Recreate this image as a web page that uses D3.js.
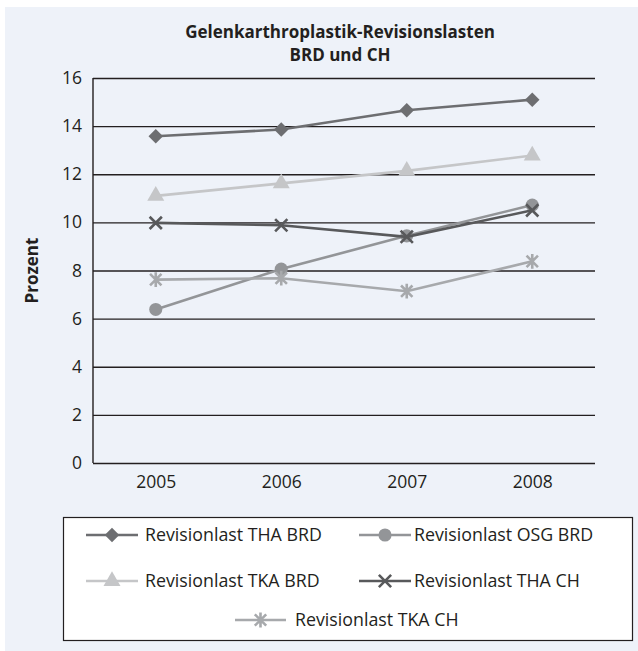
<!DOCTYPE html>
<html>
<head>
<meta charset="utf-8">
<script src="https://cdn.jsdelivr.net/npm/d3@7"></script>
<style>
  html, body { margin: 0; padding: 0; background: #fff; }
  svg { display: block; font-family: 'Open Sans', sans-serif; }
</style>
</head>
<body>
<svg id="chart" width="638" height="651"></svg>
<script>
const years = ['2005', '2006', '2007', '2008']
const yTicks = [0, 2, 4, 6, 8, 10, 12, 14, 16]

const thaBrd = [13.58, 13.86, 14.66, 15.1]
const osgBrd = [6.38, 8.06, 9.44, 10.72]
const tkaBrd = [11.1, 11.62, 12.14, 12.78]
const thaCh = [9.98, 9.88, 9.4, 10.5]
const tkaCh = [7.62, 7.68, 7.14, 8.38]

const seriesNames = [
  'Revisionlast THA BRD',
  'Revisionlast OSG BRD',
  'Revisionlast TKA BRD',
  'Revisionlast THA CH',
  'Revisionlast TKA CH'
]

// marker shapes
const symbolRhomb = {
  draw(ctx, size) {
    const r = Math.sqrt(size) / 2
    ctx.moveTo(0, -r); ctx.lineTo(r, 0); ctx.lineTo(0, r); ctx.lineTo(-r, 0)
    ctx.closePath()
  }
}
const symbolCross = {
  draw(ctx, size) {
    const r = Math.sqrt(size) / 2
    ctx.moveTo(-r, -r); ctx.lineTo(r, r)
    ctx.moveTo(r, -r); ctx.lineTo(-r, r)
  }
}
const symbolStar = {
  draw(ctx, size) {
    const r = Math.sqrt(size) / 2
    ctx.moveTo(-r, -r); ctx.lineTo(r, r)
    ctx.moveTo(r, -r); ctx.lineTo(-r, r)
    ctx.moveTo(0, -r * 1.3); ctx.lineTo(0, r * 1.3)
  }
}

const series = [
  { name: seriesNames[0], values: thaBrd, color: '#6d6e71', symbol: symbolRhomb, size: 210, fill: true },
  { name: seriesNames[1], values: osgBrd, color: '#939598', symbol: d3.symbolCircle, size: 135, fill: true },
  { name: seriesNames[2], values: tkaBrd, color: '#c5c6c8', symbol: d3.symbolTriangle, size: 125, fill: true },
  { name: seriesNames[3], values: thaCh, color: '#58595b', symbol: symbolCross, size: 150, fill: false },
  { name: seriesNames[4], values: tkaCh, color: '#a7a9ac', symbol: symbolStar, size: 130, fill: false }
]

const svg = d3.select('#chart')

svg.append('rect')
  .attr('x', 5).attr('y', 7)
  .attr('width', 633).attr('height', 644)
  .attr('fill', '#eef2f9')

const x = d3.scalePoint().domain(years).range([93, 595]).padding(0.5)
const y = d3.scaleLinear().domain([0, 16]).range([463, 78])

// title
const title = svg.append('text')
  .attr('text-anchor', 'middle')
  .attr('font-weight', 'bold')
  .attr('font-size', 17)
  .attr('fill', '#231f20')
title.append('tspan').attr('x', 340).attr('y', 38).text('Gelenkarthroplastik-Revisionslasten')
title.append('tspan').attr('x', 340).attr('y', 61).text('BRD und CH')

// y axis with gridlines
const yAxis = svg.append('g')
  .attr('transform', 'translate(93,0)')
  .call(d3.axisLeft(y).tickValues(yTicks).tickSize(-(595 - 93)).tickPadding(11))
yAxis.select('.domain').remove()
yAxis.selectAll('.tick line').attr('stroke', '#231f20').attr('stroke-width', 1.4)
yAxis.selectAll('.tick text')
  .attr('font-size', 17.5).attr('fill', '#231f20')
  .attr('font-family', 'Open Sans, sans-serif')

svg.append('line')
  .attr('x1', 93).attr('x2', 93)
  .attr('y1', y(16)).attr('y2', y(0))
  .attr('stroke', '#231f20').attr('stroke-width', 1.4)

// x labels
const xAxis = svg.append('g')
  .attr('transform', 'translate(0,463)')
  .call(d3.axisBottom(x).tickSize(0).tickPadding(13))
xAxis.select('.domain').remove()
xAxis.selectAll('.tick text')
  .attr('font-size', 17.5).attr('fill', '#231f20')
  .attr('font-family', 'Open Sans, sans-serif')

// y title
svg.append('text')
  .attr('transform', `translate(38,${(y(16) + y(0)) / 2}) rotate(-90)`)
  .attr('text-anchor', 'middle')
  .attr('font-weight', 'bold')
  .attr('font-size', 17)
  .attr('fill', '#231f20')
  .text('Prozent')

// series
const line = d3.line().x((d, i) => x(years[i])).y(d => y(d))

series.forEach(s => {
  const g = svg.append('g')
  g.append('path')
    .attr('d', line(s.values))
    .attr('fill', 'none')
    .attr('stroke', s.color)
    .attr('stroke-width', 2.6)
  g.selectAll('path.mark')
    .data(s.values)
    .join('path')
    .attr('class', 'mark')
    .attr('transform', (d, i) => `translate(${x(years[i])},${y(d)})`)
    .attr('d', d3.symbol(s.symbol, s.size))
    .attr('fill', s.fill ? s.color : 'none')
    .attr('stroke', s.fill ? 'none' : s.color)
    .attr('stroke-width', 2.6)
})

// legend
svg.append('rect')
  .attr('x', 63.5).attr('y', 517.5)
  .attr('width', 569).attr('height', 123)
  .attr('fill', '#fff')
  .attr('stroke', '#231f20').attr('stroke-width', 1.2)

const legendPos = [
  { x0: 86, x1: 138, tx: 145, y: 535 },
  { x0: 359, x1: 411, tx: 414, y: 535 },
  { x0: 86, x1: 138, tx: 145, y: 581 },
  { x0: 359, x1: 411, tx: 414, y: 581 },
  { x0: 235, x1: 286, tx: 295, y: 620 }
]

series.forEach((s, i) => {
  const p = legendPos[i]
  const g = svg.append('g')
  g.append('line')
    .attr('x1', p.x0).attr('x2', p.x1)
    .attr('y1', p.y).attr('y2', p.y)
    .attr('stroke', s.color).attr('stroke-width', 2.6)
  g.append('path')
    .attr('transform', `translate(${(p.x0 + p.x1) / 2},${p.y})`)
    .attr('d', d3.symbol(s.symbol, s.size))
    .attr('fill', s.fill ? s.color : 'none')
    .attr('stroke', s.fill ? 'none' : s.color)
    .attr('stroke-width', 2.6)
  g.append('text')
    .attr('x', p.tx).attr('y', p.y)
    .attr('dy', '0.35em')
    .attr('font-size', 17.8)
    .attr('fill', '#231f20')
    .text(s.name)
})
</script>
</body>
</html>
